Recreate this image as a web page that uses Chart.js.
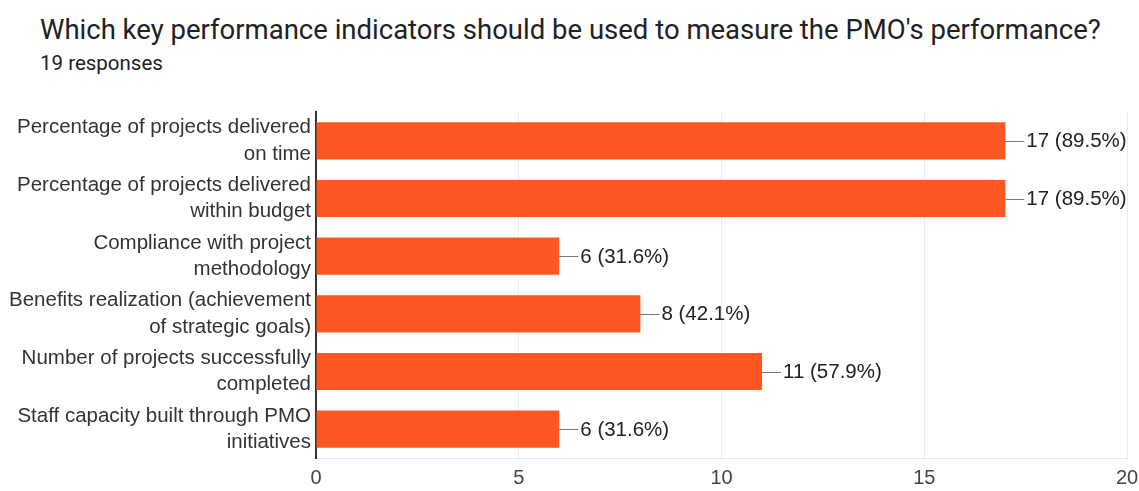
<!DOCTYPE html>
<html>
<head>
<meta charset="utf-8">
<script src="https://cdn.jsdelivr.net/npm/chart.js@4"></script>
<style>
  body { margin: 0; background: #fff; width: 1139px; height: 491px; overflow: hidden; position: relative; }
  #title { position: absolute; left: 40px; top: 13px; font: 27.5px Roboto, sans-serif; color: #202124; white-space: nowrap; }
  #sub { position: absolute; left: 40px; top: 51px; font: 20.5px Roboto, sans-serif; color: #202124; }
  canvas { position: absolute; left: 0; top: 0; }
</style>
</head>
<body>
<div id="title">Which key performance indicators should be used to measure the PMO's performance?</div>
<div id="sub">19 responses</div>
<canvas id="chart" width="1139" height="491"></canvas>
<script>
const categories = [
  ["Percentage of projects delivered", "on time"],
  ["Percentage of projects delivered", "within budget"],
  ["Compliance with project", "methodology"],
  ["Benefits realization (achievement", "of strategic goals)"],
  ["Number of projects successfully", "completed"],
  ["Staff capacity built through PMO", "initiatives"]
];
const counts = [17, 17, 6, 8, 11, 6];
const totalResponses = 19;
const xTicks = [0, 5, 10, 15, 20];

const FONT = "Arial, 'Liberation Sans', sans-serif";

// leader line + "count (pct%)" after each bar
const valueLabels = {
  id: "valueLabels",
  afterDatasetsDraw(chart) {
    const ctx = chart.ctx;
    const meta = chart.getDatasetMeta(0);
    ctx.save();
    ctx.font = "20.5px " + FONT;
    ctx.fillStyle = "#222";
    ctx.strokeStyle = "#777";
    ctx.lineWidth = 1;
    ctx.textBaseline = "middle";
    meta.data.forEach((bar, i) => {
      const v = counts[i];
      const pct = (v / totalResponses * 100).toFixed(1);
      ctx.beginPath();
      ctx.moveTo(bar.x, Math.round(bar.y) + 0.5);
      ctx.lineTo(bar.x + 19, Math.round(bar.y) + 0.5);
      ctx.stroke();
      ctx.fillText(v + " (" + pct + "%)", bar.x + 21, bar.y + 1);
    });
    ctx.restore();
  }
};

new Chart(document.getElementById("chart"), {
  type: "bar",
  data: {
    labels: categories,
    datasets: [{
      data: counts,
      backgroundColor: "#ff5722",
      borderWidth: 0,
      categoryPercentage: 1,
      barPercentage: 0.645
    }]
  },
  options: {
    indexAxis: "y",
    responsive: false,
    animation: false,
    devicePixelRatio: 1,
    layout: { padding: { top: 112, right: 0, left: 0, bottom: 0 } },
    plugins: { legend: { display: false }, tooltip: { enabled: false } },
    scales: {
      x: {
        min: 0,
        max: 20,
        afterBuildTicks(scale) { scale.ticks = xTicks.map(v => ({ value: v })); },
        afterFit(scale) {
          scale.height = 33;
          scale.paddingRight = 12;
          scale.paddingLeft = 0;
        },
        grid: { color: "#ebebeb", lineWidth: 1, drawTicks: false },
        border: { display: true, color: "#e6e6e6" },
        ticks: { padding: 8, color: "#444", font: { size: 20, family: FONT } }
      },
      y: {
        afterFit(scale) { scale.width = 316; },
        grid: { display: false, drawTicks: false },
        border: { display: true, color: "#333", width: 2 },
        ticks: { padding: 5, color: "#333", font: { size: 20.5, family: FONT, lineHeight: 1.28 } }
      }
    }
  },
  plugins: [valueLabels]
});
</script>
</body>
</html>
